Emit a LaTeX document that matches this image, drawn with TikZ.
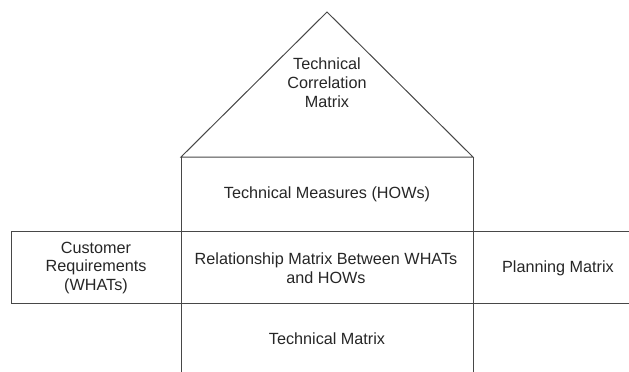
\documentclass[tikz,border=0pt]{standalone}
\usepackage{fontspec}
\setmainfont{Liberation Sans}
\begin{document}
\begin{tikzpicture}[x=1pt,y=-1pt,
  edge/.style={draw=black!72,line width=1pt},
  lbl/.style={align=center,font=\fontsize{16.2}{18.8}\selectfont,text=black!85,inner sep=0pt}]
\useasboundingbox (0,0) rectangle (629,372);
% key points
\coordinate (apex) at (327,12);
\coordinate (bl) at (181,157);
\coordinate (br) at (473,157);
\coordinate (cbl) at (181,372);
\coordinate (cbr) at (473,372);
\coordinate (l1) at (11,231);
\coordinate (l2) at (11,303);
\coordinate (r1) at (629,231);
\coordinate (r2) at (629,303);
% roof
\draw[edge,line join=miter] (bl) -- (apex) -- (br) -- cycle;
% central column
\draw[edge] (bl) -- (cbl);
\draw[edge] (br) -- (cbr);
% rows
\draw[edge] (l1) -- (r1);
\draw[edge] (l2) -- (r2);
\draw[edge] (l1) -- (l2);
% labels
\node[lbl] (corr) at (327,83) {Technical\\Correlation\\Matrix};
\node[lbl] (hows) at (327,194) {Technical Measures (HOWs)};
\node[lbl] (rel) at (326,268) {Relationship Matrix Between WHATs\\and HOWs};
\node[lbl] (whats) at (96,268) {Customer\\Requirements\\(WHATs)};
\node[lbl] (plan) at (558,268) {Planning Matrix};
\node[lbl] (tech) at (327,339) {Technical Matrix};
\end{tikzpicture}
\end{document}
